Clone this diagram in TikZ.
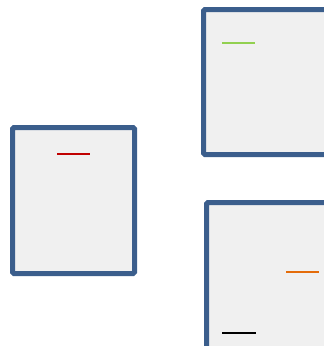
\documentclass[tikz,border=0pt]{standalone}
\usetikzlibrary{calc}
\definecolor{boxborder}{HTML}{3B5E8C}
\definecolor{boxfill}{HTML}{F0F0F0}
\definecolor{segred}{HTML}{C00000}
\definecolor{seggreen}{HTML}{92D050}
\definecolor{segorange}{HTML}{E46C0A}
\tikzset{
  panel/.style={draw=boxborder, fill=boxfill, line width=5pt, rounded corners=1.5pt},
  seg/.style={line width=2pt}
}
\begin{document}
\begin{tikzpicture}[x=1pt,y=-1pt]
\useasboundingbox (0,0) rectangle (324,346);
\clip (0,0) rectangle (324,346);
% left panel
\draw[panel] (12.5,127.5) rectangle (134.5,273.5);
\draw[seg, segred] (57,154) -- (90,154);
% top right panel
\draw[panel] (203.5,9.5) rectangle (340,154.5);
\draw[seg, seggreen] (222,43) -- (255,43);
% bottom right panel
\draw[panel] (206.5,202.5) rectangle (340,360);
\draw[seg, segorange] (286,272) -- (319,272);
\draw[seg, black] (222,333) -- (256,333);
\end{tikzpicture}
\end{document}
